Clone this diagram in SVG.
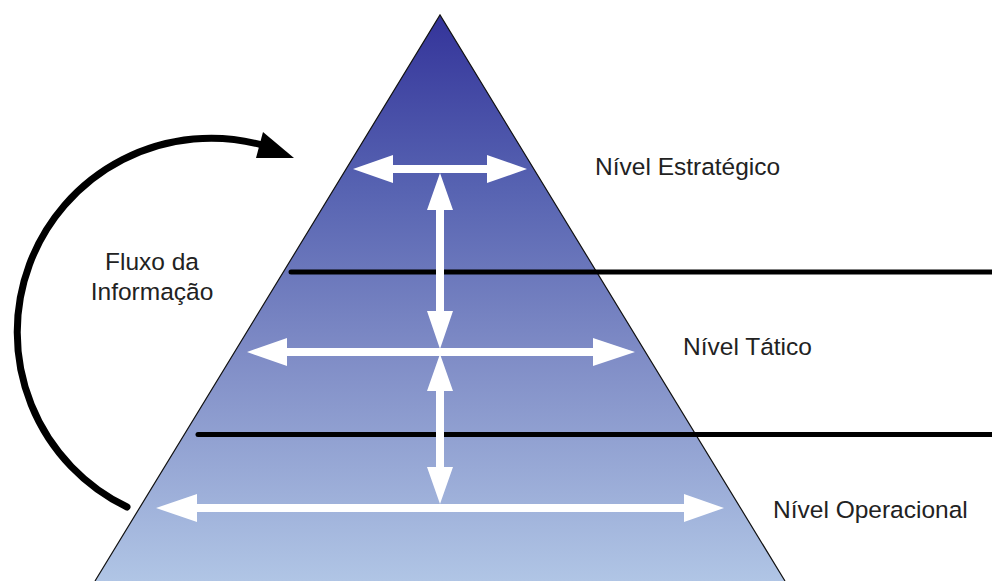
<svg xmlns="http://www.w3.org/2000/svg" width="992" height="581" viewBox="0 0 992 581">
  <defs>
    <linearGradient id="pyrFill" x1="0" y1="15" x2="0" y2="581" gradientUnits="userSpaceOnUse">
      <stop offset="0" stop-color="#34349a"/>
      <stop offset="0.3" stop-color="#5662b1"/>
      <stop offset="0.6" stop-color="#7f8cc6"/>
      <stop offset="1" stop-color="#b0c5e5"/>
    </linearGradient>
    <style>
      .label { font-family: "Liberation Sans", Arial, sans-serif; font-size: 24.5px; fill: #222222; }
      .divider { stroke: #000000; stroke-width: 5; stroke-linecap: round; fill: none; }
      .flow { fill: #ffffff; }
      .cycle { stroke: #000000; stroke-width: 7; stroke-linecap: round; fill: none; }
    </style>
  </defs>

  <rect width="992" height="581" fill="#ffffff"/>

  <!-- pyramid body -->
  <g id="pyramid">
    <polygon points="440,15 785,581 95,581" fill="url(#pyrFill)"/>
    <polyline points="95,581 440,15 785,581" fill="none" stroke="#111111" stroke-width="1.2"/>
  </g>

  <!-- level dividers -->
  <g id="dividers">
    <line class="divider" x1="291" y1="272" x2="994" y2="272"/>
    <line class="divider" x1="198" y1="434.5" x2="994" y2="434.5"/>
  </g>

  <!-- white two-way arrows inside the pyramid -->
  <g id="connectors">
    <!-- strategic level, horizontal -->
    <polygon class="flow" points="353,169 393,155 393,165 487,165 487,155 527,169 487,183 487,173 393,173 393,183"/>
    <!-- strategic to tactical, vertical -->
    <polygon class="flow" points="440,173 453,210 444,210 444,311 453,311 440,349 427,311 436,311 436,210 427,210"/>
    <!-- tactical level, horizontal -->
    <polygon class="flow" points="247,352 287,338 287,348 593,348 593,338 635,352 593,366 593,356 287,356 287,366"/>
    <!-- tactical to operational, vertical -->
    <polygon class="flow" points="440,354 453,391 444,391 444,467 453,467 440,504 427,467 436,467 436,391 427,391"/>
    <!-- operational level, horizontal -->
    <polygon class="flow" points="156,508 197,494 197,504 684,504 684,494 724,508 684,522 684,512 197,512 197,522"/>

    <!-- information flow cycle -->
    <path class="cycle" d="M 127,507 A 194 194 0 0 1 262,145"/>
    <polygon points="263,132 294,158 256,158" fill="#000000"/>
  </g>

  <g id="flow-label">
    <text class="label" x="152" y="270" text-anchor="middle">Fluxo da</text>
    <text class="label" x="152" y="300" text-anchor="middle">Informação</text>
  </g>

  <g id="level-strategic">
    <text class="label" x="595" y="175">Nível Estratégico</text>
  </g>
  <g id="level-tactical">
    <text class="label" x="683" y="355">Nível Tático</text>
  </g>
  <g id="level-operational">
    <text class="label" x="773" y="518">Nível Operacional</text>
  </g>
</svg>
